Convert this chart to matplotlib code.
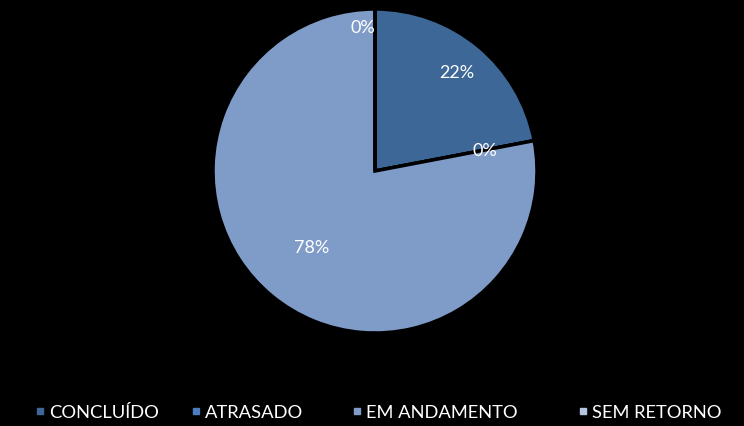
import matplotlib
matplotlib.use("Agg")
import matplotlib.pyplot as plt
from matplotlib.lines import Line2D
import numpy as np

categories = ["CONCLUÍDO", "ATRASADO", "EM ANDAMENTO", "SEM RETORNO"]
values = [22, 0, 78, 0]
labels = ["22%", "0%", "78%", "0%"]
colors = ["#3D6797", "#4A7DBF", "#7F9CC9", "#B5C4DF"]
label_dist = [0.79, 0.69, 0.61, 0.89]
label_ha = ["center", "center", "center", "right"]

plt.rcParams['font.family'] = ['Lato', 'DejaVu Sans']

fig = plt.figure(figsize=(7.44, 4.27), dpi=100, facecolor="black")
W, H = 744, 427
cx, cy, r = 375, 172, 162
ax = fig.add_axes([(cx - r) / W, (H - cy - r) / H, 2 * r / W, 2 * r / H])
ax.set_facecolor("black")

wedges, _ = ax.pie(values, colors=colors, startangle=90, counterclock=False,
                   wedgeprops=dict(edgecolor="black", linewidth=2.5, clip_on=False),
                   radius=1.0)
ax.set_xlim(-1.0, 1.0)
ax.set_ylim(-1.0, 1.0)
ax.set_aspect("equal")
ax.axis("off")

for w, lab, d, ha in zip(wedges, labels, label_dist, label_ha):
    ang = np.deg2rad((w.theta1 + w.theta2) / 2)
    x, y = d * np.cos(ang), d * np.sin(ang)
    ax.text(x, y, lab, color="white", fontsize=13, ha=ha, va="center")

# legend entries placed at the reference's positions
entry_left_px = [32, 188, 349, 575]
for c, name, xp in zip(colors, categories, entry_left_px):
    h = Line2D([0], [0], marker="s", linestyle="none", markersize=5,
               markerfacecolor=c, markeredgecolor=c)
    lg = fig.legend([h], [name], loc="center left", bbox_to_anchor=(xp / W, (H - 413) / H),
                    frameon=False, fontsize=13.2, labelcolor="white",
                    handletextpad=0.05, handlelength=0.9, borderpad=0, borderaxespad=0)

fig.savefig("out.png", dpi=100, facecolor="black")
